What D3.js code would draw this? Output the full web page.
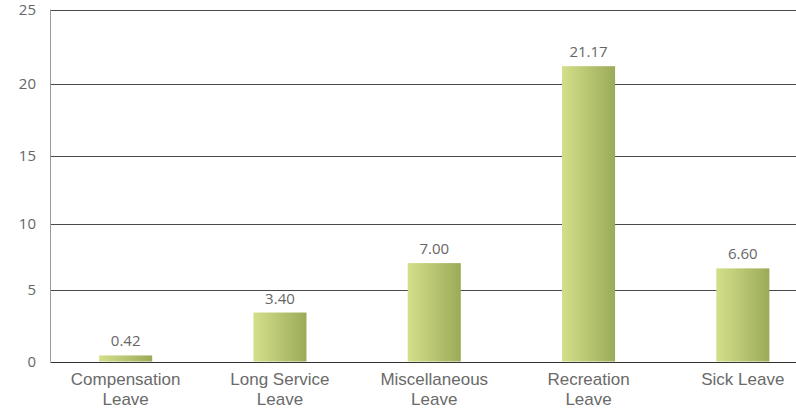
<!DOCTYPE html>
<html>
<head>
<meta charset="utf-8">
<script src="https://cdn.jsdelivr.net/npm/d3@7"></script>
<style>
  html, body { margin: 0; padding: 0; background: #fff; }
  svg { display: block; }
</style>
</head>
<body>
<script>
const categories = ["Compensation Leave", "Long Service Leave", "Miscellaneous Leave", "Recreation Leave", "Sick Leave"];
const values = [0.42, 3.40, 7.00, 21.17, 6.60];
const valueLabels = ["0.42", "3.40", "7.00", "21.17", "6.60"];
const yTicks = [0, 5, 10, 15, 20, 25];

const W = 796, H = 409;
const svg = d3.select("body").append("svg").attr("width", W).attr("height", H);

const defs = svg.append("defs");
const grad = defs.append("linearGradient").attr("id", "barGrad")
  .attr("x1", "0%").attr("x2", "100%").attr("y1", "0%").attr("y2", "0%");
grad.append("stop").attr("offset", "0%").attr("stop-color", "#d5df8a");
grad.append("stop").attr("offset", "100%").attr("stop-color", "#9aab58");

const x = d3.scaleBand().domain(categories).range([48.5, 820])
  .paddingInner(0.656).paddingOuter(0.328);
const y = d3.scaleLinear().domain(yTicks).range([361.5, 289.5, 223.5, 155.5, 83.5, 9.5]);

const left = 50.5;

// gridlines
svg.append("g").selectAll("line").data(yTicks.filter(d => d > 0)).join("line")
  .attr("x1", left).attr("x2", W)
  .attr("y1", d => Math.round(y(d)) + 0.5).attr("y2", d => Math.round(y(d)) + 0.5)
  .attr("stroke", "#4a4a4a").attr("stroke-width", 1);

// bars
svg.append("g").selectAll("rect").data(values).join("rect")
  .attr("x", (d, i) => x(categories[i]))
  .attr("width", x.bandwidth())
  .attr("y", d => y(d))
  .attr("height", d => y(0) - y(d))
  .attr("fill", "url(#barGrad)");

// baseline
svg.append("line").attr("x1", left).attr("x2", W)
  .attr("y1", Math.round(y(0)) + 0.5).attr("y2", Math.round(y(0)) + 0.5)
  .attr("stroke", "#333").attr("stroke-width", 1);

// left axis line
svg.append("line").attr("x1", left).attr("x2", left)
  .attr("y1", y(25)).attr("y2", y(0))
  .attr("stroke", "#9a9a9a").attr("stroke-width", 1);

// y tick labels
svg.append("g").selectAll("text").data(yTicks).join("text")
  .attr("x", 36).attr("y", d => y(d))
  .attr("dy", "0.36em")
  .attr("text-anchor", "end")
  .attr("font-family", "'Open Sans', sans-serif")
  .attr("font-size", 15)
  .attr("fill", "#666")
  .text(d => d);

// value labels
svg.append("g").selectAll("text").data(values).join("text")
  .attr("x", (d, i) => x(categories[i]) + x.bandwidth() / 2)
  .attr("y", d => y(d) - 9)
  .attr("text-anchor", "middle")
  .attr("font-family", "'Open Sans', sans-serif")
  .attr("font-size", 15)
  .attr("fill", "#666")
  .text((d, i) => valueLabels[i]);

// category labels
const catG = svg.append("g").selectAll("text").data(categories).join("text")
  .attr("x", d => x(d) + x.bandwidth() / 2)
  .attr("y", 385)
  .attr("text-anchor", "middle")
  .attr("font-family", "'Liberation Sans', Arial, sans-serif")
  .attr("font-size", 17)
  .attr("fill", "#6a6a6a");
catG.each(function(d) {
  const t = d3.select(this);
  const words = d.split(" ");
  let lines;
  if (d === "Sick Leave") lines = [d];
  else lines = [words.slice(0, -1).join(" "), words[words.length - 1]];
  lines.forEach((ln, k) => {
    t.append("tspan").attr("x", t.attr("x")).attr("dy", k === 0 ? 0 : 20).text(ln);
  });
});
</script>
</body>
</html>
